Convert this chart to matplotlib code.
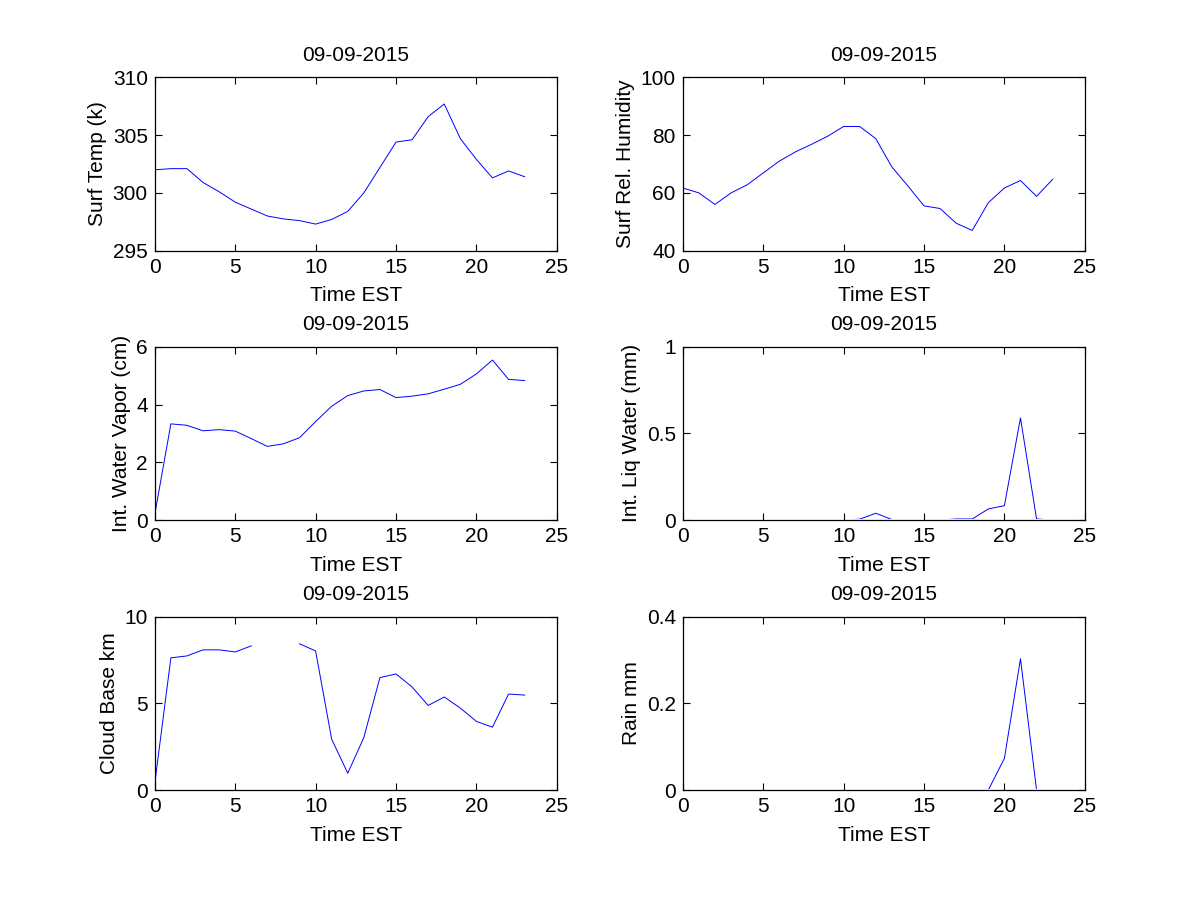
import numpy as np
import matplotlib
matplotlib.use('Agg')
import matplotlib.pyplot as plt
from matplotlib.transforms import Bbox, TransformedBbox

plt.rcParams['font.family'] = ['Liberation Sans', 'DejaVu Sans']

# hourly data, 09-09-2015
hours = np.arange(24)

surf_temp = [302.0, 302.1, 302.1, 300.9, 300.1, 299.2, 298.6, 298.0, 297.75, 297.6,
             297.3, 297.7, 298.4, 300.0, 302.2, 304.4, 304.6, 306.6, 307.7, 304.7,
             302.9, 301.3, 301.9, 301.4]

surf_rh = [61.7, 60.0, 56.0, 60.0, 62.8, 66.9, 71.0, 74.2, 76.8, 79.6,
           83.0, 83.0, 78.8, 69.0, 62.4, 55.5, 54.6, 49.5, 47.0, 56.6,
           61.7, 64.3, 58.8, 64.7]

water_vapor = [0.2, 3.33, 3.28, 3.09, 3.13, 3.08, 2.82, 2.55, 2.64, 2.85,
               3.41, 3.94, 4.31, 4.47, 4.52, 4.24, 4.29, 4.37, 4.53, 4.70,
               5.06, 5.54, 4.87, 4.83]

liq_water = [0, 0, 0, 0, 0, 0, 0, 0, 0, 0,
             0, 0.005, 0.039, 0.003, 0, 0, 0, 0.006, 0.006, 0.064,
             0.083, 0.589, 0.006, 0]

cloud_base = [0.4, 7.63, 7.74, 8.09, 8.09, 7.97, 8.32, np.nan, np.nan, 8.44,
              8.03, 2.93, 0.97, 3.03, 6.49, 6.70, 5.95, 4.88, 5.37, 4.73,
              3.96, 3.63, 5.54, 5.48]

rain = [0, 0, 0, 0, 0, 0, 0, 0, 0, 0,
        0, 0, 0, 0, 0, 0, 0, 0, 0, 0,
        0.073, 0.303, 0, 0]

panels = [
    (surf_temp, 'Surf Temp (k)', (295, 310), [295, 300, 305, 310]),
    (surf_rh, 'Surf Rel. Humidity', (40, 100), [40, 60, 80, 100]),
    (water_vapor, 'Int. Water Vapor (cm)', (0, 6), [0, 2, 4, 6]),
    (liq_water, 'Int. Liq Water (mm)', (0, 1), [0, 0.5, 1]),
    (cloud_base, 'Cloud Base km', (0, 10), [0, 5, 10]),
    (rain, 'Rain mm', (0, 0.4), [0, 0.2, 0.4]),
]

fig = plt.figure(figsize=(12, 9), dpi=100)

lefts = [0.129, 0.569]
bottoms = [0.7215, 0.4222, 0.1222]
w, h = 0.335, 0.1925
fs = 15

for i, (vals, ylab, ylim, yticks) in enumerate(panels):
    r, c = divmod(i, 2)
    ax = fig.add_axes([lefts[c], bottoms[r], w, h])
    line, = ax.plot(hours, vals, color='blue', linewidth=0.7)
    # zero values sit under the bottom axis line, as in the original
    line.set_clip_box(TransformedBbox(Bbox([[0, 0.004], [1, 1]]), ax.transAxes))
    ax.set_xlim(0, 25)
    ax.set_ylim(*ylim)
    ax.set_xticks([0, 5, 10, 15, 20, 25])
    ax.set_yticks(yticks)
    ax.set_yticklabels([('%g' % t) for t in yticks])
    ax.tick_params(direction='in', top=True, right=True, length=5,
                   labelsize=fs, width=0.8, pad=5)
    for s in ax.spines.values():
        s.set_linewidth(0.9)
    ax.set_title('09-09-2015', fontsize=fs, pad=12)
    ax.set_xlabel('Time EST', fontsize=fs, labelpad=7)
    ax.set_ylabel(ylab, fontsize=fs, labelpad=4)

fig.savefig('out.png', dpi=100)
